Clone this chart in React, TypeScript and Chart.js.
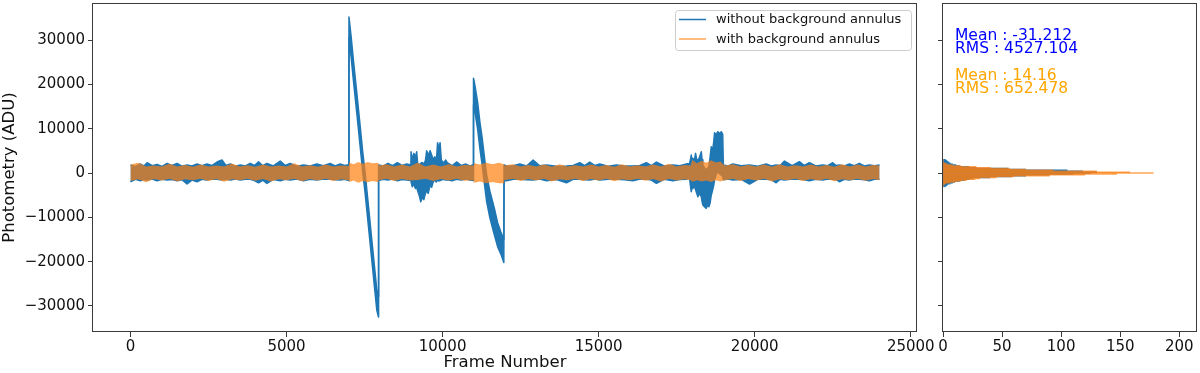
import React, { useEffect, useRef } from 'react';
import { Chart, registerables } from 'chart.js';

Chart.register(...registerables);

const FONT_FAMILY = "'DejaVu Sans', 'Liberation Sans', sans-serif";
const BLUE = '#1f77b4';
const ORANGE = 'rgba(255,127,14,0.7)';
const AXIS = '#3a3a3a';
const TEXT = '#111111';

// ---------- labels ----------
const seriesLabels = ['without background annulus', 'with background annulus'];
const xTitle = 'Frame Number';
const yTitle = 'Photometry (ADU)';
const statsBlue = ['Mean : -31.212', 'RMS : 4527.104'];
const statsOrange = ['Mean : 14.16', 'RMS : 652.478'];

// ---------- ticks ----------
const xTicks = [0, 5000, 10000, 15000, 20000, 25000];
const yTicks = [-30000, -20000, -10000, 0, 10000, 20000, 30000];
const histTicks = [0, 50, 100, 150, 200];
const xRange = [-1200, 25200];
const yRange = [-35875, 38375];
const histRange = [0, 215];

// ---------- series: without background annulus (upper / lower envelope of the trace) ----------
const blueFrames = [
  0, 160, 320, 430, 533, 700, 853, 1010, 1173, 1330, 1493, 1650, 1813, 1970, 2133, 2290, 2452, 2610, 2772, 2932, 3060, 3199, 3360, 3519, 3680, 3838, 3970, 4105, 4240, 4372, 4580, 4798, 4960, 5118, 5330, 5545, 5760, 5971, 6180, 6398, 6560, 6718, 6860, 6999,
  7001, 7070, 7143, 7252, 7358, 7444, 7518, 7623, 7732, 7815, 7892, 7948,
  7950, 8100, 8250, 8400, 8550, 8700, 8850, 8985,
  8990, 9030, 9080, 9130, 9170, 9200, 9250, 9300, 9350, 9400, 9450, 9490, 9540, 9600, 9650, 9700, 9750, 9800, 9840, 9880, 9920, 9960, 10030, 10100,
  10150, 10300, 10450, 10600, 10750, 10870, 10990,
  10991, 11036, 11122, 11196, 11270, 11334, 11411, 11516, 11654, 11763, 11868, 11962,
  11970, 12050, 12260, 12476, 12690, 12902, 13110, 13330, 13650, 13970, 14180, 14395, 14550, 14715, 14880, 15035, 15300, 15570, 15830, 16100, 16320, 16530, 16690, 16850, 17100, 17380, 17600, 17810,
  17914, 17940, 17968, 17995, 18020, 18060, 18106, 18140, 18180, 18230, 18289, 18315, 18340, 18390, 18448, 18490, 18532, 18570, 18608, 18645, 18680, 18714, 18760, 18820, 18870, 18928, 18975,
  18995, 19150, 19300, 19570, 19834, 20100, 20368, 20530, 20687, 20820, 20954, 21200, 21433, 21590, 21753, 21960, 22180, 22340, 22500, 22610, 22713, 22870, 23033, 23190, 23353, 23510, 23672, 23840, 24000,
];
const blueUpper = [
  1800, 1500, 2030, 1600, 2330, 1650, 1960, 1500, 2180, 1700, 2180, 1550, 1810, 1600, 2030, 1650, 2030, 1700, 2480, 2940, 1700, 2030, 1550, 1810, 1600, 2180, 1700, 2560, 1650, 2180, 1600, 2710, 1700, 2180, 1550, 1810, 1600, 2030, 1650, 2180, 1600, 2030, 1700, 1900,
  35200, 30800, 25500, 18100, 10700, 4600, 100, -7300, -15000, -20900, -26300, -27900,
  1800, 1600, 2180, 1650, 2330, 1700, 2030, 1800,
  4800, 3000, 4440, 3500, 4800, 2180, 1800, 2180, 2400, 2000, 2800, 5030, 4000, 5030, 4060, 3000, 3680, 2500, 6840, 5500, 6840, 2935, 2200, 2935,
  2330, 1650, 2500, 1700, 2030, 1600, 1900,
  21400, 19800, 16000, 11500, 7800, 4000, -400, -4100, -7800, -11200, -13300, -15000,
  1800, 1580, 1650, 2030, 1600, 2935, 1650, 1810, 1550, 1580, 1700, 2330, 1650, 2480, 1700, 2030, 1550, 1810, 1600, 1580, 1700, 2330, 1650, 2480, 1600, 1810, 1650, 2030,
  2180, 3000, 4060, 2500, 3320, 2600, 4440, 3000, 2935, 3500, 4800, 3000, 1800, 1200, 680, 1100, 1420, 3500, 5940, 5000, 6500, 9100, 8600, 9320, 8900, 9320, 8800,
  1800, 1600, 2030, 1650, 1810, 1550, 2030, 1600, 1810, 1700, 2710, 1650, 2560, 1700, 2330, 1600, 1810, 1650, 2330, 1700, 1810, 1600, 2030, 1650, 2180, 1600, 1810, 1650, 1810,
];
const blueLower = [
  -1960, -1400, -1740, -1450, -1580, -1350, -1740, -1400, -1580, -1450, -1740, -1500, -2480, -1600, -1960, -1400, -1580, -1350, -1420, -1580, -1400, -1580, -1350, -1580, -1400, -1420, -1700, -2190, -1600, -2330, -1450, -1740, -1400, -1580, -1350, -1740, -1400, -1580, -1350, -1420, -1500, -1580, -1400, -1700,
  30600, 26200, 20900, 13500, 6100, 0, -4500, -11900, -19600, -25500, -30900, -32500,
  -1700, -1400, -1580, -1350, -1740, -1450, -1580, -1700,
  -2000, -3090, -2500, -3500, -3090, -4000, -5000, -6480, -5500, -6000, -4580, -4000, -4580, -2710, -3200, -2000, -1580, -2000, -1580, -1800, -1700, -1580, -1400, -1580,
  -1500, -1740, -1400, -1580, -1350, -1600, -1700,
  15400, 13800, 10000, 5500, 1800, -2000, -6400, -10100, -13800, -16600, -18300, -20200,
  -1700, -1740, -1400, -1420, -1500, -1580, -1350, -1740, -1450, -2190, -1400, -1420, -1500, -1580, -1350, -1580, -1400, -1420, -1500, -1740, -1350, -1420, -1600, -2325, -1400, -1740, -1450, -1420,
  -1200, -2800, -4210, -3000, -3500, -2800, -3800, -4500, -5340, -4600, -5340, -6500, -7220, -7600, -7970, -7200, -7600, -6800, -5000, -4000, -3000, -1580, -500, 680, -200, -450, -800,
  -1500, -1350, -1580, -1450, -2480, -1400, -1430, -1500, -2190, -1400, -1580, -1350, -1430, -1500, -1740, -1400, -1580, -1350, -1430, -1500, -1960, -1400, -1580, -1350, -1430, -1500, -1740, -1400, -1430,
];

// ---------- series: with background annulus (upper / lower envelope of the trace) ----------
const orangeFrames = [
  0, 250, 500, 750, 1000, 1250, 1500, 1750, 2000, 2250, 2500, 2750, 3000, 3250, 3500, 3750, 4000, 4250, 4500, 4750, 5000, 5250, 5500, 5750, 6000, 6250, 6500, 6750, 6995,
  7005, 7150, 7300, 7450, 7600, 7750, 7945,
  7955, 8200, 8450, 8700, 8950, 9200, 9450, 9700, 9950, 10200, 10450, 10700, 10995,
  11005, 11200, 11400, 11600, 11800, 11965,
  11975, 12250, 12500, 12750, 13000, 13250, 13500, 13750, 14000, 14250, 14500, 14750, 15000, 15250, 15500, 15750, 16000, 16250, 16500, 16750, 17000, 17250, 17500, 17750, 17950,
  18000, 18150, 18300, 18450, 18600, 18750, 18900, 18990,
  19050, 19300, 19550, 19800, 20050, 20300, 20550, 20800, 21050, 21300, 21550, 21800, 22050, 22300, 22550, 22800, 23050, 23300, 23550, 23800, 24000,
];
const orangeUpper = [
  1900, 2330, 1500, 1700, 1450, 2100, 1500, 1800, 1400, 1900, 1500, 1700, 1450, 2180, 1500, 1750, 1400, 1950, 1500, 1700, 1450, 2200, 1500, 1750, 1400, 1900, 1500, 1700, 1600,
  2400, 2000, 2500, 2100, 2500, 2200, 2300,
  1700, 2000, 1450, 1900, 1500, 2330, 1500, 1900, 1450, 2000, 1500, 1800, 1700,
  2200, 1900, 2300, 2000, 2300, 2000,
  1700, 2000, 1450, 1800, 1500, 1950, 1400, 2000, 1500, 1750, 1450, 1900, 1500, 1800, 1400, 2000, 1500, 1750, 1450, 1900, 1500, 2100, 1450, 1800, 1700,
  2935, 2200, 2800, 2300, 2900, 2400, 2600, 2000,
  1700, 2000, 1450, 1800, 1500, 1950, 1400, 2000, 1500, 1750, 1450, 1900, 1500, 1800, 1400, 2000, 1500, 1900, 1450, 1800, 1700,
];
const orangeLower = [
  -1800, -1400, -2100, -1350, -1700, -1300, -1900, -1400, -1600, -1300, -1800, -1350, -1960, -1400, -1600, -1300, -1750, -1350, -1900, -1400, -1600, -1300, -1850, -1350, -1700, -1300, -1800, -1400, -1600,
  -2000, -1700, -2200, -1800, -2100, -1800, -2000,
  -1600, -1300, -1800, -1350, -1700, -1580, -1300, -1800, -1350, -1700, -1300, -1750, -1600,
  -2200, -1900, -2300, -2000, -2300, -2330,
  -1600, -1300, -1800, -1350, -1700, -1300, -1900, -1400, -1600, -1300, -1800, -1350, -1700, -1300, -1850, -1400, -1600, -1300, -1750, -1350, -1900, -1300, -1700, -1400, -1600,
  -1960, -1600, -1900, -1700, -2000, -1600, -1900, -1700,
  -1600, -1300, -1800, -1350, -1700, -1300, -1900, -1400, -1600, -1300, -1800, -1350, -1700, -1300, -1850, -1400, -1600, -1300, -1750, -1350, -1600,
];

// ---------- histogram (bin centres in ADU, counts) ----------
const histBins = [
  -3000, -2800, -2600, -2400, -2200, -2000, -1800, -1600, -1400, -1200, -1000, -800, -600, -400, -200,
  0, 200, 400, 600, 800, 1000, 1200, 1400, 1600, 1800, 2000, 2200, 2400, 2600, 2800, 3000,
];
const histBlue = [
  2, 3, 4, 6, 8, 10, 14, 18, 22, 25, 40, 58, 70, 90, 110,
  125, 130, 118, 105, 70, 55, 28, 22, 14, 11, 8, 6, 5, 4, 3, 2,
];
const histOrange = [
  0, 0, 1, 2, 6, 10, 15, 20, 27, 31, 45, 60, 90, 120, 147,
  178, 158, 130, 93, 70, 56, 40, 28, 15, 8, 4, 2, 0, 0, 0, 0,
];

const minus = (v: number) => String(v).replace('-', '\u2212');
const font = (size: number) => ({ family: FONT_FAMILY, size });

const zeroPad = (s: any) => {
  s.paddingTop = 0;
  s.paddingBottom = 0;
  s.paddingLeft = 0;
  s.paddingRight = 0;
};

const framePlugin = {
  id: 'mplFrame',
  afterDraw(chart: any) {
    const { ctx, chartArea: a } = chart;
    const x0 = Math.round(a.left) - 0.5;
    const x1 = Math.round(a.right) - 0.5;
    const y0 = Math.round(a.top) + 0.5;
    const y1 = Math.round(a.bottom) - 0.5;
    ctx.save();
    ctx.strokeStyle = AXIS;
    ctx.lineWidth = 1;
    ctx.strokeRect(x0, y0, x1 - x0, y1 - y0);
    ctx.restore();
  },
};

const legendPlugin = {
  id: 'mplLegend',
  afterDraw(chart: any) {
    const { ctx, chartArea: a } = chart;
    const w = 236;
    const h = 40;
    const x = Math.round(a.right) - 6 - w;
    const y = Math.round(a.top) + 7;
    ctx.save();
    ctx.beginPath();
    ctx.roundRect(x + 0.5, y + 0.5, w, h, 3);
    ctx.fillStyle = 'rgba(255,255,255,0.8)';
    ctx.fill();
    ctx.strokeStyle = '#cccccc';
    ctx.lineWidth = 1;
    ctx.stroke();
    const colors = [BLUE, ORANGE];
    ctx.font = `13px ${FONT_FAMILY}`;
    ctx.textBaseline = 'middle';
    seriesLabels.forEach((label, i) => {
      const cy = y + 9.5 + i * 19.5;
      ctx.strokeStyle = colors[i];
      ctx.lineWidth = 1.5;
      ctx.beginPath();
      ctx.moveTo(x + 4, cy);
      ctx.lineTo(x + 31, cy);
      ctx.stroke();
      ctx.fillStyle = TEXT;
      ctx.fillText(label, x + 41, cy + 0.5);
    });
    ctx.restore();
  },
};

const statsPlugin = {
  id: 'stats',
  afterDraw(chart: any) {
    const { ctx, chartArea: a } = chart;
    const x = a.left + 12;
    ctx.save();
    ctx.font = `15.5px ${FONT_FAMILY}`;
    ctx.textBaseline = 'alphabetic';
    ctx.fillStyle = '#0000ff';
    ctx.fillText(statsBlue[0], x, a.top + 36.7);
    ctx.fillText(statsBlue[1], x, a.top + 50);
    ctx.fillStyle = '#ffa500';
    ctx.fillText(statsOrange[0], x, a.top + 77);
    ctx.fillText(statsOrange[1], x, a.top + 90.3);
    ctx.restore();
  },
};

const toPoints = (xs: number[], ys: number[]) => xs.map((x, i) => ({ x, y: ys[i] }));

function mainConfig(): any {
  const lineBase = { pointRadius: 0, borderJoinStyle: 'round', tension: 0 };
  return {
    type: 'line',
    data: {
      datasets: [
        { ...lineBase, label: seriesLabels[1], data: toPoints(orangeFrames, orangeUpper), borderColor: 'rgba(0,0,0,0)', borderWidth: 0.01, backgroundColor: ORANGE, fill: '+1', order: 0 },
        { ...lineBase, label: seriesLabels[1] + ' low', data: toPoints(orangeFrames, orangeLower), borderColor: 'rgba(0,0,0,0)', borderWidth: 0.01, backgroundColor: ORANGE, fill: false, order: 0 },
        { ...lineBase, label: seriesLabels[0], data: toPoints(blueFrames, blueUpper), borderColor: BLUE, borderWidth: 1.5, backgroundColor: BLUE, fill: '+1', order: 1 },
        { ...lineBase, label: seriesLabels[0] + ' low', data: toPoints(blueFrames, blueLower), borderColor: BLUE, borderWidth: 1.5, backgroundColor: BLUE, fill: false, order: 1 },
      ],
    },
    options: {
      animation: false,
      responsive: false,
      devicePixelRatio: 1,
      events: [],
      layout: { padding: { top: 3, right: 28, left: 0, bottom: 0 } },
      plugins: { legend: { display: false }, tooltip: { enabled: false } },
      scales: {
        x: {
          type: 'linear',
          min: xRange[0],
          max: xRange[1],
          afterBuildTicks: (s: any) => { s.ticks = xTicks.map((value) => ({ value })); },
          afterFit: (s: any) => { s.height = 41; zeroPad(s); },
          grid: { drawOnChartArea: false, drawTicks: true, tickLength: 5, color: AXIS, lineWidth: 1 },
          border: { display: false },
          ticks: { font: font(15), color: TEXT, padding: 1, maxRotation: 0, autoSkip: false, callback: (v: number) => minus(v) },
          title: { display: true, text: xTitle, font: font(16.5), color: TEXT, padding: { top: 0, bottom: 0 } },
        },
        y: {
          type: 'linear',
          min: yRange[0],
          max: yRange[1],
          afterBuildTicks: (s: any) => { s.ticks = yTicks.map((value) => ({ value })); },
          afterFit: (s: any) => { s.width = 93; zeroPad(s); },
          grid: { drawOnChartArea: false, drawTicks: true, tickLength: 5, color: AXIS, lineWidth: 1 },
          border: { display: false },
          ticks: { font: font(15), color: TEXT, padding: 3, autoSkip: false, callback: (v: number) => minus(v) },
          title: { display: true, text: yTitle, font: font(16.5), color: TEXT, padding: { top: 0, bottom: 0 } },
        },
      },
    },
    plugins: [framePlugin, legendPlugin],
  };
}

function histConfig(): any {
  return {
    type: 'bar',
    data: {
      datasets: [
        { label: seriesLabels[1], data: toPoints(histOrange, histBins), backgroundColor: ORANGE, borderWidth: 0, order: 0 },
        { label: seriesLabels[0], data: toPoints(histBlue, histBins), backgroundColor: BLUE, borderWidth: 0, order: 1 },
      ],
    },
    options: {
      indexAxis: 'y',
      animation: false,
      responsive: false,
      devicePixelRatio: 1,
      events: [],
      grouped: false,
      barPercentage: 1,
      categoryPercentage: 1,
      layout: { padding: { top: 3, right: 3, left: 0, bottom: 0 } },
      plugins: { legend: { display: false }, tooltip: { enabled: false } },
      scales: {
        x: {
          type: 'linear',
          min: histRange[0],
          max: histRange[1],
          afterBuildTicks: (s: any) => { s.ticks = histTicks.map((value) => ({ value })); },
          afterFit: (s: any) => { s.height = 41; zeroPad(s); },
          grid: { drawOnChartArea: false, drawTicks: true, tickLength: 5, color: AXIS, lineWidth: 1 },
          border: { display: false },
          ticks: { font: font(15), color: TEXT, padding: 1, maxRotation: 0, autoSkip: false, callback: (v: number) => String(v) },
        },
        y: {
          type: 'linear',
          offset: false,
          min: yRange[0],
          max: yRange[1],
          afterBuildTicks: (s: any) => { s.ticks = yTicks.map((value) => ({ value })); },
          afterFit: (s: any) => { s.width = 13; zeroPad(s); },
          grid: { offset: false, drawOnChartArea: false, drawTicks: true, tickLength: 5, color: AXIS, lineWidth: 1 },
          border: { display: false },
          ticks: { display: false },
        },
      },
    },
    plugins: [framePlugin, statsPlugin],
  };
}

export default function App() {
  const mainRef = useRef<HTMLCanvasElement>(null);
  const histRef = useRef<HTMLCanvasElement>(null);

  useEffect(() => {
    Chart.defaults.font.family = FONT_FAMILY;
    const main = new Chart(mainRef.current as HTMLCanvasElement, mainConfig());
    const hist = new Chart(histRef.current as HTMLCanvasElement, histConfig());
    return () => {
      main.destroy();
      hist.destroy();
    };
  }, []);

  return (
    <div style={{ position: 'fixed', left: 0, top: 0, width: 1200, height: 373, background: '#ffffff', overflow: 'hidden' }}>
      <canvas ref={mainRef} width={945} height={373} style={{ position: 'absolute', left: 0, top: 0 }} />
      <canvas ref={histRef} width={270} height={373} style={{ position: 'absolute', left: 930, top: 0 }} />
    </div>
  );
}
